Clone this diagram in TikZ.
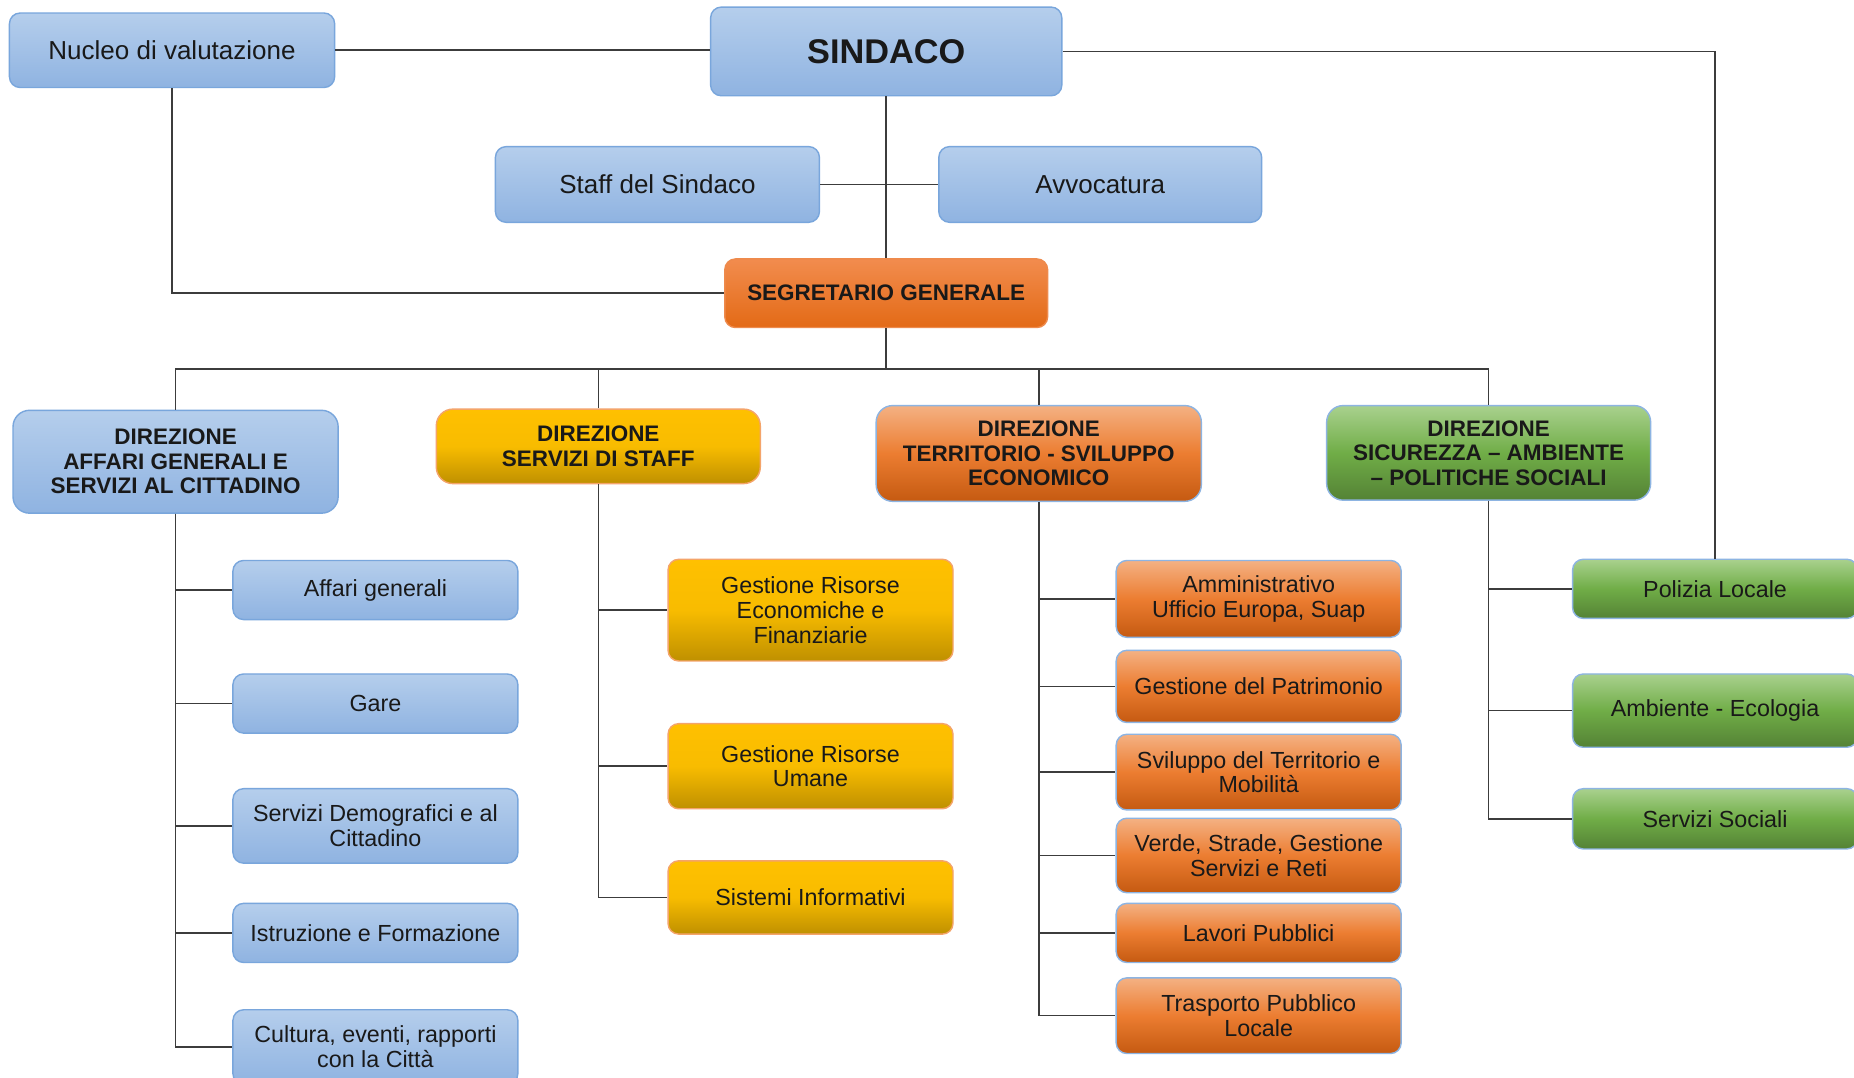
\documentclass[tikz,border=0pt]{standalone}
\usepackage{fontspec}
\setmainfont{Liberation Sans}
\definecolor{blueT}{HTML}{B5CEEC}
\definecolor{blueB}{HTML}{8FB3E1}
\definecolor{blueD}{HTML}{79A6DC}
\definecolor{segT}{HTML}{F28C4E}
\definecolor{segB}{HTML}{E36A16}
\definecolor{segD}{HTML}{EE8A4C}
\definecolor{orT}{HTML}{F4B183}
\definecolor{orM}{HTML}{EC7D31}
\definecolor{orB}{HTML}{C55A11}
\definecolor{yeT}{HTML}{FFC000}
\definecolor{yeM}{HTML}{F8BC00}
\definecolor{yeB}{HTML}{BF9000}
\definecolor{yeD}{HTML}{F4A46A}
\definecolor{grT}{HTML}{A9D18E}
\definecolor{grM}{HTML}{70AD47}
\definecolor{grB}{HTML}{548235}
\definecolor{edgeD}{HTML}{8DB4E2}
\definecolor{linec}{HTML}{3C3C3C}
\tikzset{
  box/.style={rounded corners=9pt, line width=1.2pt, align=center, inner sep=0pt,
    text=black!90},
  bluebox/.style={box, draw=blueD, top color=blueT, bottom color=blueB},
  segbox/.style={box, draw=segD, top color=segT, bottom color=segB},
  orbox/.style={box, draw=edgeD, top color=orT, bottom color=orB, middle color=orM},
  yebox/.style={box, draw=yeD, top color=yeT, bottom color=yeB, middle color=yeM},
  grbox/.style={box, draw=edgeD, top color=grT, bottom color=grB, middle color=grM},
  big/.style={font=\fontsize{22}{24}\selectfont},
  small/.style={font=\fontsize{19.7}{21}\selectfont},
  dirf/.style={font=\bfseries\fontsize{19}{20.7}\selectfont, rounded corners=14pt},
  sub/.style={minimum width=241pt},
  conn/.style={draw=linec, line width=1.3pt},
}
\begin{document}
\begin{tikzpicture}[x=1pt,y=-1pt]
\path[use as bounding box, clip] (0,0) rectangle (1568,911);
\fill[white] (0,0) rectangle (1568,911);
% top level
\node[bluebox, big, minimum width=275pt, minimum height=63pt] (nucleo) at (145.5,42.5) {Nucleo di valutazione};
\node[bluebox, font=\bfseries\fontsize{29}{31}\selectfont, minimum width=297pt, minimum height=75pt] (sindaco) at (749.5,43.5) {SINDACO};
\node[bluebox, big, minimum width=274pt, minimum height=64pt] (staff) at (556,156) {Staff del Sindaco};
\node[bluebox, big, minimum width=273pt, minimum height=64pt] (avv) at (930.5,156) {Avvocatura};
\node[segbox, font=\bfseries\fontsize{19}{21}\selectfont, minimum width=273pt, minimum height=58pt] (segr) at (749.5,248) {SEGRETARIO GENERALE};
% direzioni
\node[bluebox, dirf, minimum width=275pt, minimum height=87pt] (dirA) at (148.5,390.5) {DIREZIONE\\AFFARI GENERALI E\\SERVIZI AL CITTADINO};
\node[yebox, dirf, minimum width=274pt, minimum height=63pt] (dirS) at (506,377.5) {DIREZIONE\\SERVIZI DI STAFF};
\node[orbox, dirf, minimum width=275pt, minimum height=81pt] (dirT) at (878.5,383.5) {DIREZIONE\\TERRITORIO - SVILUPPO\\ECONOMICO};
\node[grbox, dirf, minimum width=274pt, minimum height=80pt] (dirSi) at (1259,383) {DIREZIONE\\SICUREZZA -- AMBIENTE\\-- POLITICHE SOCIALI};
% blue subs
\node[bluebox, small, sub, minimum height=50pt] (affari) at (317.5,499) {Affari generali};
\node[bluebox, small, sub, minimum height=50pt] (gare) at (317.5,595) {Gare};
\node[bluebox, small, sub, minimum height=63pt] (demo) at (317.5,698.5) {Servizi Demografici e al\\Cittadino};
\node[bluebox, small, sub, minimum height=50pt] (istr) at (317.5,789) {Istruzione e Formazione};
\node[bluebox, small, sub, minimum height=63pt] (cult) at (317.5,885.5) {Cultura, eventi, rapporti\\con la Città};
% yellow subs
\node[yebox, small, sub, minimum height=86pt] (econ) at (685.5,516) {Gestione Risorse\\Economiche e\\Finanziarie};
\node[yebox, small, sub, minimum height=72pt] (umane) at (685.5,648) {Gestione Risorse\\Umane};
\node[yebox, small, sub, minimum height=62pt] (sist) at (685.5,759) {Sistemi Informativi};
% orange subs
\node[orbox, small, sub, minimum height=65pt] (amm) at (1064.5,506.5) {Amministrativo\\Ufficio Europa, Suap};
\node[orbox, small, sub, minimum height=61pt] (patr) at (1064.5,580.5) {Gestione del Patrimonio};
\node[orbox, small, sub, minimum height=64pt] (svil) at (1064.5,653) {Sviluppo del Territorio e\\Mobilità};
\node[orbox, small, sub, minimum height=63pt] (verde) at (1064.5,723.5) {Verde, Strade, Gestione\\Servizi e Reti};
\node[orbox, small, sub, minimum height=50pt] (lavori) at (1064.5,789) {Lavori Pubblici};
\node[orbox, small, sub, minimum height=64pt] (trasp) at (1064.5,859) {Trasporto Pubblico\\Locale};
% green subs
\node[grbox, small, sub, minimum height=50pt] (poliz) at (1450.5,498) {Polizia Locale};
\node[grbox, small, sub, minimum height=62pt] (amb) at (1450.5,601) {Ambiente - Ecologia};
\node[grbox, small, sub, minimum height=51pt] (soc) at (1450.5,692.5) {Servizi Sociali};
% connectors
\coordinate (bus) at (749.5,312);
\draw[conn] (nucleo.east) -- (nucleo.east -| sindaco.west);
\draw[conn] (nucleo.south) |- (segr.west);
\draw[conn] (sindaco.south) -- (segr.north);
\draw[conn] (staff.east) -- (avv.west);
\draw[conn] (sindaco.east) -| (poliz.north);
\draw[conn] (segr.south) -- (bus);
\draw[conn] (dirA.north) |- (bus) -| (dirSi.north);
\draw[conn] (dirS.north) -- (dirS.north |- bus);
\draw[conn] (dirT.north) -- (dirT.north |- bus);
\foreach \t in {affari,gare,demo,istr,cult} \draw[conn] (dirA.south) |- (\t.west);
\foreach \t in {econ,umane,sist} \draw[conn] (dirS.south) |- (\t.west);
\foreach \t in {amm,patr,svil,verde,lavori,trasp} \draw[conn] (dirT.south) |- (\t.west);
\foreach \t in {poliz,amb,soc} \draw[conn] (dirSi.south) |- (\t.west);
\end{tikzpicture}
\end{document}
